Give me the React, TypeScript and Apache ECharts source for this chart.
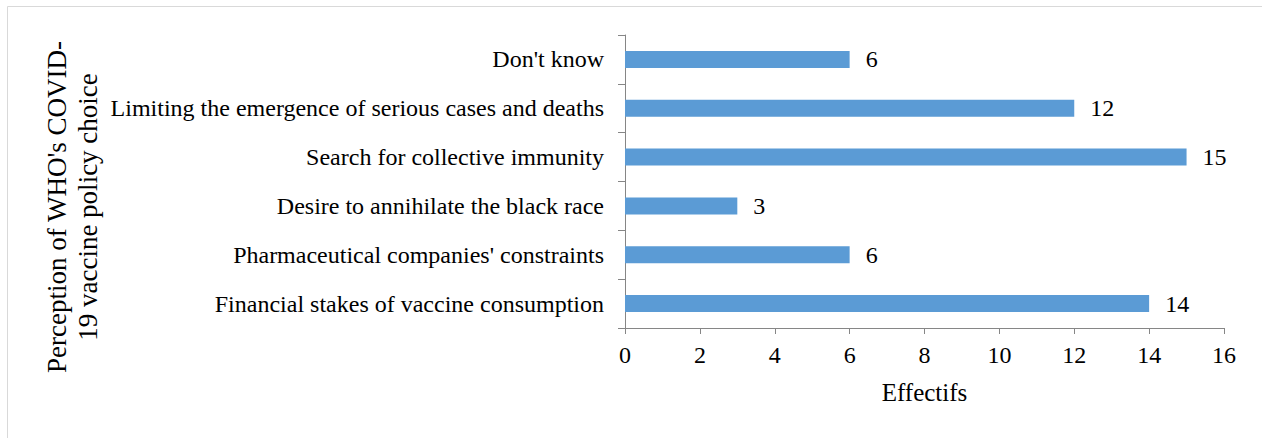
import React, { useEffect, useRef } from "react";
import * as echarts from "echarts";

// Responses, listed top to bottom as shown
const categories = [
  "Don't know",
  "Limiting the emergence of serious cases and deaths",
  "Search for collective immunity",
  "Desire to annihilate the black race",
  "Pharmaceutical companies' constraints",
  "Financial stakes of vaccine consumption",
];
const counts = [6, 12, 15, 3, 6, 14];
const xTicks = [0, 2, 4, 6, 8, 10, 12, 14, 16];

const FONT = "'Liberation Serif', 'Times New Roman', serif";
const AXIS_COLOR = "#868686";

export default function App() {
  const ref = useRef<HTMLDivElement>(null);

  useEffect(() => {
    if (!ref.current) return;
    const chart = echarts.init(ref.current, undefined, { renderer: "svg" });
    chart.setOption({
      animation: false,
      backgroundColor: "#ffffff",
      textStyle: { fontFamily: FONT, color: "#000" },
      grid: { left: 625, right: 38, top: 35, bottom: 110, containLabel: false },
      xAxis: {
        type: "value",
        min: xTicks[0],
        max: xTicks[xTicks.length - 1],
        interval: xTicks[1] - xTicks[0],
        name: "Effectifs",
        nameLocation: "middle",
        nameGap: 52,
        nameTextStyle: { fontFamily: FONT, fontSize: 25, color: "#000" },
        axisLine: { show: true, lineStyle: { color: AXIS_COLOR, width: 1 } },
        axisTick: { show: true, length: 6, lineStyle: { color: AXIS_COLOR } },
        axisLabel: { fontFamily: FONT, fontSize: 24, color: "#000", margin: 15 },
        splitLine: { show: false },
      },
      yAxis: {
        type: "category",
        data: categories,
        inverse: true,
        axisLine: { show: true, lineStyle: { color: AXIS_COLOR, width: 1 } },
        axisTick: { show: true, length: 7, lineStyle: { color: AXIS_COLOR } },
        axisLabel: { fontFamily: FONT, fontSize: 24, color: "#000", margin: 21 },
      },
      series: [
        {
          type: "bar",
          data: counts,
          barWidth: 17,
          itemStyle: { color: "#5B9BD5" },
          label: {
            show: true,
            position: "right",
            distance: 16,
            fontFamily: FONT,
            fontSize: 24,
            color: "#000",
          },
        },
      ],
      graphic: [
        {
          type: "rect",
          shape: { x: 7.5, y: 6.5, width: 1300, height: 500 },
          style: { fill: "none", stroke: "#d9d9d9", lineWidth: 1 },
          silent: true,
        },
        {
          type: "text",
          x: 57,
          y: 207,
          rotation: Math.PI / 2,
          style: {
            text: "Perception of WHO's COVID-",
            fontFamily: FONT,
            fontSize: 27,
            fill: "#000",
            align: "center",
            verticalAlign: "middle",
          },
        },
        {
          type: "text",
          x: 88,
          y: 207,
          rotation: Math.PI / 2,
          style: {
            text: "19 vaccine policy choice",
            fontFamily: FONT,
            fontSize: 27,
            fill: "#000",
            align: "center",
            verticalAlign: "middle",
          },
        },
      ],
    });
    return () => chart.dispose();
  }, []);

  return (
    <div
      ref={ref}
      style={{ position: "fixed", left: 0, top: 0, width: 1262, height: 438 }}
    />
  );
}
